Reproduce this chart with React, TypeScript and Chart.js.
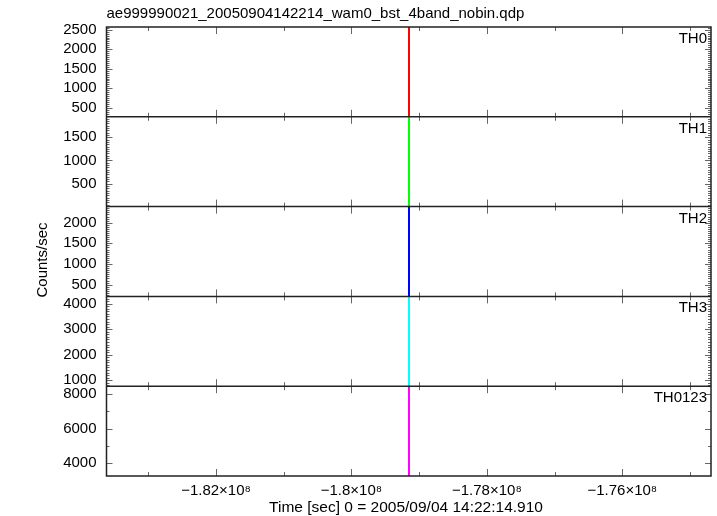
import React, { useEffect, useRef } from 'react';
import { Chart, registerables } from 'chart.js';

Chart.register(...registerables);

// ---- data ----
const fileTitle = 'ae999990021_20050904142214_wam0_bst_4band_nobin.qdp';
const xAxisTitle = 'Time [sec] 0 = 2005/09/04 14:22:14.910';
const yAxisTitle = 'Counts/sec';
const bandNames = ['TH0', 'TH1', 'TH2', 'TH3', 'TH0123'];
const burstTime = -179.15e6;
// low / high count rates of the spike in each band
const bandLow = [271, 5, 215, 763, 3268];
const bandHigh = [2569, 1940, 2390, 4289, 8461];
// axis ranges
const yMin = [271, 5, 215, 763, 3268];
const yMax = [2569, 1940, 2390, 4289, 8461];
const yMajorStep = [500, 500, 500, 1000, 2000];
const yMinorStep = [50, 50, 50, 100, 1000];
const xMin = -183.617e6;
const xMax = -174.69e6;
const xMajorStep = 2e6;
const xMinorStep = 1e6;

// ---- styles ----
const bandColors = ['#ff0000', '#00ff00', '#0000ff', '#00ffff', '#ff00ff'];
const FONT = '"Liberation Sans", Arial, Helvetica, sans-serif';
const FONT_SIZE = 15;

function stepTicks(min: number, max: number, step: number) {
  const out: { value: number }[] = [];
  const start = Math.ceil(min / step - 1e-9) * step;
  for (let v = start; v <= max + 1e-6; v += step) out.push({ value: v });
  return out;
}

function isMultiple(v: number, step: number) {
  const r = v / step;
  return Math.abs(r - Math.round(r)) < 1e-6;
}

const framePlugin = {
  id: 'qdpFrame',
  afterDatasetsDraw(chart: any) {
    const ctx: CanvasRenderingContext2D = chart.ctx;
    const a = chart.chartArea;
    const xs = chart.scales.x;
    ctx.save();
    // ticks
    ctx.strokeStyle = '#666';
    ctx.lineWidth = 1;
    ctx.beginPath();
    bandNames.forEach((_, i) => {
      const ys = chart.scales['y' + i];
      const top = ys.top;
      const bottom = ys.bottom;
      stepTicks(ys.min, ys.max, yMinorStep[i]).forEach(({ value }) => {
        const major = isMultiple(value, yMajorStep[i]);
        const len = major ? 6 : 3;
        const py = Math.round(ys.getPixelForValue(value)) + 0.5;
        ctx.moveTo(a.left, py);
        ctx.lineTo(a.left + len, py);
        ctx.moveTo(a.right, py);
        ctx.lineTo(a.right - len, py);
      });
      stepTicks(xs.min, xs.max, xMinorStep).forEach(({ value }) => {
        const major = isMultiple(value, xMajorStep);
        const len = major ? 7 : 4;
        const px = Math.round(xs.getPixelForValue(value)) + 0.5;
        ctx.moveTo(px, top);
        ctx.lineTo(px, top + len);
        ctx.moveTo(px, bottom);
        ctx.lineTo(px, bottom - len);
      });
    });
    ctx.stroke();

    // frame and panel separators
    ctx.strokeStyle = '#222';
    ctx.lineWidth = 1.5;
    ctx.strokeRect(a.left, a.top, a.right - a.left, a.bottom - a.top);
    ctx.beginPath();
    for (let i = 1; i < bandNames.length; i++) {
      const ys = chart.scales['y' + i];
      ctx.moveTo(a.left, ys.top);
      ctx.lineTo(a.right, ys.top);
    }
    ctx.stroke();

    // texts
    ctx.fillStyle = '#000';
    ctx.font = `${FONT_SIZE}px ${FONT}`;
    ctx.textBaseline = 'alphabetic';
    ctx.textAlign = 'right';
    bandNames.forEach((name, i) => {
      const ys = chart.scales['y' + i];
      ctx.fillText(name, a.right - 4, ys.top + 16);
    });
    ctx.textAlign = 'left';
    ctx.fillText(fileTitle, a.left, 18);
    ctx.textAlign = 'center';
    ctx.font = `15.5px ${FONT}`;
    ctx.fillText(xAxisTitle, 406, 512);
    ctx.font = `${FONT_SIZE}px ${FONT}`;
    ctx.translate(47, 260);
    ctx.rotate(-Math.PI / 2);
    ctx.fillText(yAxisTitle, 0, 0);
    ctx.restore();
  },
};

function formatX(v: number) {
  const m = Math.round(v / 1e6) / 100;
  const s = String(Math.abs(m));
  return (m < 0 ? '\u2212' : '') + s + '\u00d710\u2078';
}

export default function App() {
  const ref = useRef<HTMLCanvasElement | null>(null);

  useEffect(() => {
    if (!ref.current) return;
    const datasets = bandNames.map((name, i) => ({
      label: name,
      data: [
        { x: burstTime, y: bandLow[i] },
        { x: burstTime, y: bandHigh[i] },
      ],
      yAxisID: 'y' + i,
      borderColor: bandColors[i],
      backgroundColor: bandColors[i],
      borderWidth: 2,
      pointRadius: 0,
      showLine: true,
      fill: false,
    }));

    const scales: any = {
      x: {
        type: 'linear',
        position: 'bottom',
        min: xMin,
        max: xMax,
        grid: { display: false, drawTicks: false },
        border: { display: false },
        ticks: {
          color: '#000',
          font: { family: FONT, size: FONT_SIZE },
          padding: 6,
          autoSkip: false,
          maxRotation: 0,
          callback: (v: any) => formatX(Number(v)),
        },
        afterBuildTicks: (s: any) => {
          s.ticks = stepTicks(xMin, xMax, xMajorStep);
        },
        afterFit: (s: any) => {
          s.height = 40;
        },
      },
    };
    // defined bottom-first so the top panel is TH0
    for (let i = bandNames.length - 1; i >= 0; i--) {
      scales['y' + i] = {
        type: 'linear',
        position: 'left',
        stack: 'bands',
        stackWeight: 1,
        min: yMin[i],
        max: yMax[i],
        grid: { display: false, drawTicks: false },
        border: { display: false },
        ticks: {
          color: '#000',
          font: { family: FONT, size: FONT_SIZE },
          padding: 10,
          autoSkip: false,
          callback: (v: any) => String(v),
        },
        afterBuildTicks: (s: any) => {
          s.ticks = stepTicks(yMin[i], yMax[i], yMajorStep[i]);
        },
        afterFit: (s: any) => {
          s.width = 106.5;
        },
      };
    }

    const chart = new Chart(ref.current, {
      type: 'scatter',
      data: { datasets },
      options: {
        animation: false,
        responsive: false,
        maintainAspectRatio: false,
        devicePixelRatio: 1,
        layout: { padding: { top: 27, right: 6, left: 0, bottom: 0 } },
        plugins: { legend: { display: false }, tooltip: { enabled: false }, title: { display: false } },
        scales,
      },
      plugins: [framePlugin],
    } as any);
    return () => chart.destroy();
  }, []);

  return (
    <div style={{ position: 'absolute', left: 0, top: 0, width: 717, height: 516, background: '#fff' }}>
      <canvas ref={ref} width={717} height={516} style={{ display: 'block', width: 717, height: 516 }} />
    </div>
  );
}
